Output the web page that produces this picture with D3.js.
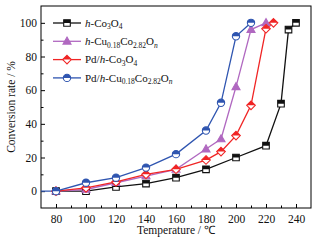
<!DOCTYPE html>
<html>
<head>
<meta charset="utf-8">
<script src="https://cdn.jsdelivr.net/npm/d3@7"></script>
<style>
  body { margin: 0; background: #fff; }
  svg { display: block; font-family: "Liberation Serif", "Times New Roman", serif; }
</style>
</head>
<body>
<svg id="chart" width="327" height="245"></svg>
<script>
// values
const coTemps = [80, 100, 120, 140, 160, 180, 200, 220, 230, 235, 240];
const coValues = [0, 0, 2.5, 4.5, 8, 13, 20, 27, 52, 96, 100];

const cuTemps = [80, 100, 120, 140, 160, 180, 190, 200, 210, 220];
const cuValues = [0, 1, 5, 9, 13, 25, 31, 62, 96, 100];

const pdCoTemps = [80, 100, 120, 140, 160, 180, 190, 200, 210, 220, 225];
const pdCoValues = [0, 2, 5.5, 10, 13, 18.5, 23.5, 33, 51, 96.5, 100];

const pdCuTemps = [60, 80, 100, 120, 140, 160, 180, 190, 200, 210];
const pdCuValues = [0, 0, 5, 8, 14, 22, 36, 52.5, 92, 100];

const xTicks = [80, 100, 120, 140, 160, 180, 200, 220, 240];
const yTicks = [0, 20, 40, 60, 80, 100];

const series = [
    { label: 'co', temps: coTemps, values: coValues, color: '#111111', shape: 'square' },
    { label: 'cu', temps: cuTemps, values: cuValues, color: '#b068c0', shape: 'triangle' },
    { label: 'pdco', temps: pdCoTemps, values: pdCoValues, color: '#f02525', shape: 'diamond' },
    { label: 'pdcu', temps: pdCuTemps, values: pdCuValues, color: '#2f55b0', shape: 'circle' }
];

const width = 327;
const height = 245;
const marginTop = 6;
const marginRight = 16;
const marginBottom = 37;
const marginLeft = 41;

const svg = d3.select('#chart');

const x = d3.scaleLinear()
    .domain([70, 250])
    .range([marginLeft, width - marginRight]);

const y = d3.scaleLinear()
    .domain([-10, 110])
    .range([height - marginBottom, marginTop]);

const defs = svg.append('defs');
defs.append('clipPath')
    .attr('id', 'plot-clip')
  .append('rect')
    .attr('x', marginLeft)
    .attr('y', marginTop)
    .attr('width', width - marginLeft - marginRight)
    .attr('height', height - marginTop - marginBottom);

// upper half clip for half-filled markers
defs.append('clipPath')
    .attr('id', 'top-half')
    .attr('clipPathUnits', 'userSpaceOnUse')
  .append('rect')
    .attr('x', -10).attr('y', -10)
    .attr('width', 20).attr('height', 10);

// Axes (ticks pointing inward)
const xAxis = d3.axisBottom(x)
    .tickValues(d3.range(80, 250, 10))
    .tickSize(-4)
    .tickFormat(d => xTicks.includes(d) ? d : '');

svg.append('g')
    .attr('transform', `translate(0, ${height - marginBottom})`)
    .call(xAxis)
    .call(g => g.select('.domain').remove())
    .call(g => g.selectAll('.tick line')
        .attr('y2', d => xTicks.includes(d) ? -4 : -2.5)
        .attr('stroke', '#000'))
    .call(g => g.selectAll('.tick text')
        .attr('y', 6.5)
        .attr('font-size', 11.5)
        .attr('font-family', '"Liberation Serif", serif')
        .attr('fill', '#111'));

const yAxis = d3.axisLeft(y)
    .tickValues(d3.range(0, 110, 10))
    .tickSize(-4)
    .tickFormat(d => yTicks.includes(d) ? d : '');

svg.append('g')
    .attr('transform', `translate(${marginLeft}, 0)`)
    .call(yAxis)
    .call(g => g.select('.domain').remove())
    .call(g => g.selectAll('.tick line')
        .attr('x2', d => yTicks.includes(d) ? 4 : 2.5)
        .attr('stroke', '#000'))
    .call(g => g.selectAll('.tick text')
        .attr('x', -4)
        .attr('font-size', 11.5)
        .attr('font-family', '"Liberation Serif", serif')
        .attr('fill', '#111'));

// frame
svg.append('rect')
    .attr('x', marginLeft)
    .attr('y', marginTop)
    .attr('width', width - marginLeft - marginRight)
    .attr('height', height - marginTop - marginBottom)
    .attr('fill', 'none')
    .attr('stroke', '#000')
    .attr('stroke-width', 1);

// axis titles
svg.append('text')
    .attr('x', (marginLeft + width - marginRight) / 2)
    .attr('y', 234)
    .attr('text-anchor', 'middle')
    .attr('font-size', 11.5)
    .attr('fill', '#111')
    .text('Temperature / ℃');

svg.append('text')
    .attr('transform', `translate(15, ${(marginTop + height - marginBottom) / 2}) rotate(-90)`)
    .attr('text-anchor', 'middle')
    .attr('font-size', 11.5)
    .attr('fill', '#111')
    .text('Conversion rate / %');

function markerPath(shape) {
    if (shape === 'square') return 'M-3.3,-3.3H3.3V3.3H-3.3Z';
    if (shape === 'triangle') return 'M0,-4.2L4,2.8H-4Z';
    if (shape === 'diamond') return 'M0,-4.3L4.3,0L0,4.3L-4.3,0Z';
    return d3.symbol(d3.symbolCircle, 42)();
}

function drawMarker(g, s) {
    const p = markerPath(s.shape);
    g.append('path').attr('d', p).attr('fill', s.shape === 'triangle' ? s.color : '#fff');
    if (s.shape !== 'triangle') {
        g.append('path').attr('d', p).attr('fill', s.color).attr('clip-path', 'url(#top-half)');
    }
    g.append('path').attr('d', p)
        .attr('fill', 'none')
        .attr('stroke', s.color)
        .attr('stroke-width', 1.1);
}

const plot = svg.append('g').attr('clip-path', 'url(#plot-clip)');

const line = d3.line()
    .x(d => x(d[0]))
    .y(d => y(d[1]));

series.forEach(s => {
    const pts = s.temps.map((t, i) => [t, s.values[i]]);
    plot.append('path')
        .datum(pts)
        .attr('d', line)
        .attr('fill', 'none')
        .attr('stroke', s.color)
        .attr('stroke-width', 1.3);
});

series.forEach(s => {
    const pts = s.temps.map((t, i) => [t, s.values[i]]);
    plot.selectAll(null)
        .data(pts)
        .join('g')
        .attr('transform', d => `translate(${x(d[0])}, ${y(d[1])})`)
        .each(function () { drawMarker(d3.select(this), s); });
});

// legend
const legendLabels = [
    [['h', 'i'], ['-Co', ''], ['3', 's'], ['O', ''], ['4', 's']],
    [['h', 'i'], ['-Cu', ''], ['0.18', 's'], ['Co', ''], ['2.82', 's'], ['O', ''], ['n', 'si']],
    [['Pd/', ''], ['h', 'i'], ['-Co', ''], ['3', 's'], ['O', ''], ['4', 's']],
    [['Pd/', ''], ['h', 'i'], ['-Cu', ''], ['0.18', 's'], ['Co', ''], ['2.82', 's'], ['O', ''], ['n', 'si']]
];

const legend = svg.append('g');
series.forEach((s, i) => {
    const ly = 23 + i * 18.3;
    const row = legend.append('g');
    row.append('line')
        .attr('x1', 53).attr('x2', 81)
        .attr('y1', ly).attr('y2', ly)
        .attr('stroke', s.color)
        .attr('stroke-width', 1.3);
    drawMarker(row.append('g').attr('transform', `translate(67, ${ly})`), s);

    const t = row.append('text')
        .attr('x', 85)
        .attr('y', ly + 3.8)
        .attr('font-size', 11)
        .attr('fill', '#111');
    legendLabels[i].forEach(([str, kind]) => {
        const ts = t.append('tspan').text(str);
        if (kind.includes('i')) ts.attr('font-style', 'italic');
        if (kind.includes('s')) {
            ts.attr('font-size', 7.5).attr('dy', 2.5);
        }
    });
    // reset baseline after subscripts
    t.selectAll('tspan').each(function (d, j) {
        const k = legendLabels[i][j][1];
        const prev = j > 0 ? legendLabels[i][j - 1][1] : '';
        if (!k.includes('s') && prev.includes('s')) d3.select(this).attr('dy', -2.5);
        if (k.includes('s') && prev.includes('s')) d3.select(this).attr('dy', 0);
    });
});
</script>
</body>
</html>
